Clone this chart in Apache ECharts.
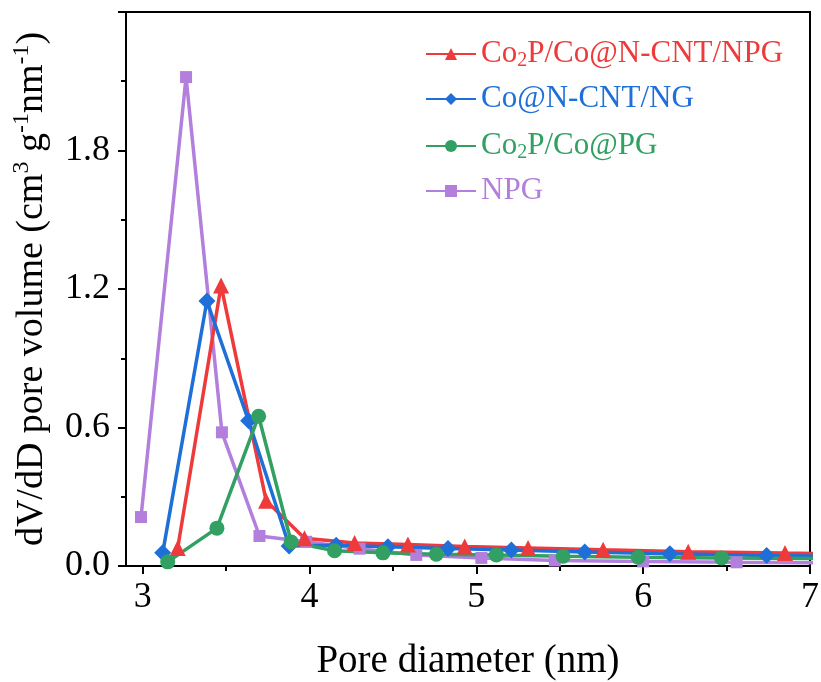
<!DOCTYPE html>
<html>
<head>
<meta charset="utf-8">
<script src="https://cdn.jsdelivr.net/npm/echarts@6/dist/echarts.min.js"></script>
<style>
html,body{margin:0;padding:0;background:#fff;}
#c{width:821px;height:682px;}
</style>
</head>
<body>
<div id="c"></div>
<script>
// Series data (pore diameter nm, dV/dD)
const redX = [3.21, 3.47, 3.74, 3.97, 4.27, 4.59, 4.93, 5.31, 5.76, 6.27, 6.85, 7.45];
const redY = [0.078, 1.215, 0.283, 0.12, 0.10, 0.093, 0.085, 0.078, 0.070, 0.062, 0.056, 0.050];
const blueX = [3.12, 3.385, 3.635, 3.878, 4.16, 4.47, 4.83, 5.21, 5.65, 6.16, 6.74, 7.4];
const blueY = [0.057, 1.148, 0.629, 0.087, 0.090, 0.083, 0.076, 0.069, 0.061, 0.053, 0.046, 0.040];
const greenX = [3.15, 3.445, 3.695, 3.89, 4.15, 4.44, 4.76, 5.12, 5.52, 5.97, 6.47, 7.05];
const greenY = [0.018, 0.164, 0.649, 0.104, 0.066, 0.057, 0.051, 0.048, 0.042, 0.038, 0.035, 0.032];
const purpleX = [2.99, 3.26, 3.475, 3.70, 3.98, 4.30, 4.64, 5.03, 5.47, 6.0, 6.56, 7.2];
const purpleY = [0.212, 2.118, 0.579, 0.13, 0.105, 0.075, 0.048, 0.035, 0.024, 0.020, 0.016, 0.014];

const seriesNames = ['Co2P/Co@N-CNT/NPG', 'Co@N-CNT/NG', 'Co2P/Co@PG', 'NPG'];
const xMajorTicks = [3, 4, 5, 6, 7];
const xMinorTicks = [3.5, 4.5, 5.5, 6.5];

const colors = {red: '#ee3a3a', blue: '#1f6fd9', green: '#31a062', purple: '#b27fdc'};
const FONT = '"Liberation Serif", "Times New Roman", serif';

function pairs(xs, ys) { return xs.map((x, i) => [x, ys[i]]); }

const chart = echarts.init(document.getElementById('c'), null, {renderer: 'canvas'});

function mkSeries(name, xs, ys, color, symbol, size) {
  return {
    name: name, type: 'line', data: pairs(xs, ys),
    symbol: symbol, symbolSize: size,
    lineStyle: {color: color, width: 3.5},
    itemStyle: {color: color},
    clip: true, animation: false
  };
}

const option = {
  animation: false,
  backgroundColor: '#fff',
  grid: {left: 126, right: 11, top: 12, bottom: 116, outerBoundsMode: 'none', containLabel: false,
    show: true, borderColor: '#000', borderWidth: 2, backgroundColor: 'transparent'},
  legend: {
    left: 420, top: 30, orient: 'vertical', itemGap: 11, itemWidth: 50, itemHeight: 15,
    data: [
      {name: seriesNames[0], textStyle: {color: colors.red}},
      {name: seriesNames[1], textStyle: {color: colors.blue}},
      {name: seriesNames[2], textStyle: {color: colors.green}},
      {name: seriesNames[3], textStyle: {color: colors.purple}}
    ],
    formatter: function (n) { return n.replace('Co2P', 'Co{sub|2}P'); },
    textStyle: {fontFamily: FONT, fontSize: 31, lineHeight: 34,
      rich: {sub: {fontFamily: FONT, fontSize: 20, verticalAlign: 'bottom', lineHeight: 34, padding: [16, 0, 0, 0]}}}
  },
  xAxis: [{
    type: 'value', min: 2.9, max: 7, position: 'bottom',
    name: 'Pore diameter (nm)', nameLocation: 'middle', nameGap: 76,
    nameTextStyle: {fontFamily: FONT, fontSize: 39, color: '#000'},
    axisLine: {show: true, lineStyle: {color: '#000', width: 2}},
    axisTick: {show: true, inside: false, length: 8, lineStyle: {color: '#000', width: 2}, customValues: xMajorTicks},
    axisLabel: {show: true, customValues: xMajorTicks, margin: 14, fontFamily: FONT, fontSize: 36, color: '#000'},
    splitLine: {show: false}
  }, {
    type: 'value', min: 2.9, max: 7, position: 'bottom',
    axisLine: {show: false},
    axisTick: {show: true, inside: false, length: 5, lineStyle: {color: '#000', width: 2}, customValues: xMinorTicks},
    axisLabel: {show: false, customValues: xMinorTicks},
    splitLine: {show: false}
  }],
  yAxis: {
    type: 'value', min: 0, max: 2.4, interval: 0.6,
    name: 'dV/dD pore volume (cm{sup|3} g{sup|-1}nm{sup|-1})', nameLocation: 'middle', nameGap: 68, nameRotate: 90,
    nameTextStyle: {fontFamily: FONT, fontSize: 38, color: '#000', lineHeight: 44,
      rich: {sup: {fontFamily: FONT, fontSize: 24, verticalAlign: 'top', lineHeight: 44, padding: [0, 0, 14, 0]}}},
    axisLine: {show: true, lineStyle: {color: '#000', width: 2}},
    axisTick: {show: true, inside: false, length: 8, lineStyle: {color: '#000', width: 2}},
    minorTick: {show: true, splitNumber: 2, length: 5, lineStyle: {color: '#000', width: 2}},
    axisLabel: {showMaxLabel: false, margin: 16, fontFamily: FONT, fontSize: 36, color: '#000',
      formatter: function (v) { return v.toFixed(1); }},
    splitLine: {show: false}
  },
  series: [
    mkSeries(seriesNames[3], purpleX, purpleY, colors.purple, 'rect', 12),
    mkSeries(seriesNames[0], redX, redY, colors.red, 'triangle', 16),
    mkSeries(seriesNames[1], blueX, blueY, colors.blue, 'diamond', 17),
    mkSeries(seriesNames[2], greenX, greenY, colors.green, 'circle', 15)
  ]
};
chart.setOption(option);
</script>
</body>
</html>
